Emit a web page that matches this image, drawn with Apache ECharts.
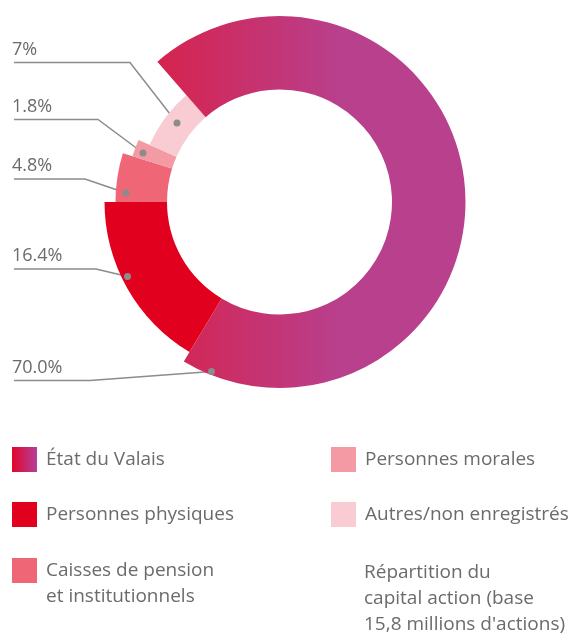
<!DOCTYPE html>
<html>
<head>
<meta charset="utf-8">
<script src="https://cdn.jsdelivr.net/npm/echarts@6/dist/echarts.min.js"></script>
<style>
  html, body { margin: 0; padding: 0; background: #fff; }
  #main { width: 572px; height: 633px; }
</style>
</head>
<body>
<div id="main"></div>
<script>
// clockwise from 9 o'clock
const names = ['Caisses de pension\net institutionnels', 'Personnes morales', 'Autres/non enregistrés', 'État du Valais', 'Personnes physiques'];
const values = [4.8, 1.8, 7, 70.0, 16.4];
const valueLabels = ['4.8%', '1.8%', '7%', '70.0%', '16.4%'];
const noteText = 'Répartition du\ncapital action (base\n15,8 millions d\'actions)';

const textColor = '#6b6b6b';
const lineColor = '#8c8c8c';
const font = '"Open Sans", sans-serif';
const center = [279.5, 202];
const innerR = 112.5;
const outerR = [164, 154, 142, 186, 175];

const ringGradient = new echarts.graphic.LinearGradient(0, 0, 1, 0, [
  { offset: 0, color: '#d6234e' },
  { offset: 0.6, color: '#b8408d' },
  { offset: 1, color: '#b8408d' }
]);
const iconGradient = new echarts.graphic.LinearGradient(0, 0, 1, 0, [
  { offset: 0, color: '#e0062a' },
  { offset: 1, color: '#b4409a' }
]);
const colors = ['#ef6677', '#f39aa5', '#f9ccd3', ringGradient, '#e2001f'];
const legendColors = ['#ef6677', '#f39aa5', '#f9ccd3', iconGradient, '#e2001f'];

// leader lines: dot on the ring, bend point, horizontal line y
const leaders = [
  { dot: [126, 193], bendX: 85, lineY: 179 },
  { dot: [143, 153], bendX: 98, lineY: 119.5 },
  { dot: [177, 123], bendX: 130, lineY: 62.5 },
  { dot: [211.5, 371.5], bendX: 90, lineY: 380.5 },
  { dot: [127.5, 276.5], bendX: 96, lineY: 269 }
];

const chart = echarts.init(document.getElementById('main'));

const series = names.map((owner, i) => ({
  type: 'pie',
  center: center,
  radius: [innerR, outerR[i]],
  startAngle: 180,
  clockwise: true,
  silent: true,
  avoidLabelOverlap: false,
  emphasis: { disabled: true },
  label: {
    position: 'outside',
    color: textColor,
    fontFamily: font,
    fontSize: 18,
    formatter: () => valueLabels[i]
  },
  labelLine: { show: true, lineStyle: { color: lineColor, width: 1.5 } },
  labelLayout: (p) => {
    if (p.dataIndex !== i) return {};
    const l = leaders[i];
    return {
      x: 12,
      y: l.lineY - 4,
      align: 'left',
      verticalAlign: 'bottom',
      labelLinePoints: [l.dot, [l.bendX, l.lineY], [14, l.lineY]]
    };
  },
  data: names.map((n, j) => ({
    name: n,
    value: values[j],
    itemStyle: { color: j === i ? colors[j] : 'rgba(0,0,0,0)' },
    label: { show: j === i },
    labelLine: { show: j === i }
  }))
}));

const legendText = { color: textColor, fontFamily: font, fontSize: 19, padding: [4, 0, 0, 4] };
const legendBase = {
  orient: 'vertical',
  selectedMode: false,
  padding: 0,
  icon: 'rect',
  itemWidth: 25,
  itemHeight: 25,
  itemGap: 30,
  textStyle: legendText
};
const legendItem = (j) => ({ name: names[j], itemStyle: { color: legendColors[j] } });

chart.setOption({
  backgroundColor: '#fff',
  animation: false,
  title: {
    text: noteText,
    left: 364,
    top: 560,
    padding: 0,
    textStyle: { color: textColor, fontFamily: font, fontSize: 19, fontWeight: 'normal', lineHeight: 26 }
  },
  legend: [
    Object.assign({}, legendBase, { left: 12, top: 447, data: [legendItem(3), legendItem(4)] }),
    // two-line item: square sits in the top half of a 52px tall icon box
    Object.assign({}, legendBase, {
      left: 12, top: 556,
      itemHeight: 52,
      icon: 'path://M0,0L25,0L25,25L0,25Z M0,52L0.001,52Z',
      textStyle: Object.assign({}, legendText, { lineHeight: 26 }),
      data: [legendItem(0)]
    }),
    Object.assign({}, legendBase, { left: 331, top: 447, data: [legendItem(1), legendItem(2)] })
  ],
  graphic: leaders.map((l) => ({
    type: 'circle',
    shape: { cx: l.dot[0], cy: l.dot[1], r: 3.5 },
    style: { fill: lineColor },
    z: 100
  })),
  series: series
});
</script>
</body>
</html>
